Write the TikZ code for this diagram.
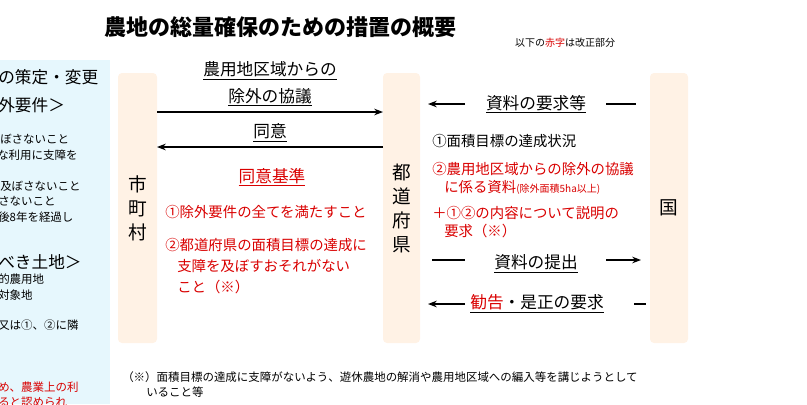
\documentclass[tikz,border=0pt]{standalone}
\usepackage{fontspec}
\setmainfont{Noto Sans CJK JP}
\usetikzlibrary{arrows.meta}
\begin{document}
\begin{tikzpicture}[x=0.75pt,y=-0.75pt,>=Stealth,
  % Styles
  party/.style={draw=none,fill=orange!10,rounded corners=3pt},
  txt/.style={anchor=west,inner sep=0pt,font=\fontsize{10.8}{13}\selectfont},
  small/.style={anchor=west,inner sep=0pt,font=\fontsize{8.6}{10}\selectfont},
  head/.style={inner sep=0pt,font=\fontsize{12.5}{15}\selectfont},
  flow/.style={->,thick}]
  \colorlet{revcolor}{red!85!black}
  \useasboundingbox (0,0) rectangle (807,404);

  % Left panel (cut off)
  \begin{scope}
    \clip (0,60) rectangle (110,404);
    \fill[cyan!10] (0,60) rectangle (110,404);
    \node[txt,font=\fontsize{12.5}{15}\selectfont] at (-2,77) {の策定・変更};
    \node[txt,font=\fontsize{12.5}{15}\selectfont] at (-2,105) {外要件＞};
    \node[small] at (0,139) {ぼさないこと};
    \node[small] at (-3,155) {な利用に支障を};
    \node[small] at (0,186) {及ぼさないこと};
    \node[small] at (-2,201) {さないこと};
    \node[small] at (-2,217) {後8年を経過し};
    \node[txt,font=\fontsize{12.5}{15}\selectfont] at (-2,262) {べき土地＞};
    \node[small] at (-2,279) {的農用地};
    \node[small] at (-2,295) {対象地};
    \node[small] at (-2,325) {又は①、②に隣};
    \node[small,text=revcolor] at (-2,387) {め、農業上の利};
    \node[small,text=revcolor] at (-2,402) {ると認められ};
  \end{scope}

  % Title
  \node[inner sep=0pt,font=\fontsize{16.5}{19}\bfseries\selectfont] (title) at (280,27) {農地の総量確保のための措置の概要};
  \node[inner sep=0pt,font=\fontsize{7.5}{9}\selectfont] (note) at (565,43) {以下の{\color{revcolor}赤字}は改正部分};

  % Parties
  \fill[party] (118,73) rectangle (157,343);
  \fill[party] (383,73) rectangle (420,343);
  \fill[party] (650,73) rectangle (688,343);
  \node[head,align=center,font=\fontsize{14}{18}\selectfont] (city) at (137.5,208) {市\\町\\村};
  \node[head,align=center,font=\fontsize{14}{18}\selectfont] (pref) at (401.5,208) {都\\道\\府\\県};
  \node[head,font=\fontsize{14}{18}\selectfont] (nat) at (669,208) {国};

  % City <-> prefecture
  \node[head,align=center,font=\fontsize{12.5}{20}\selectfont] (consult) at (270,84) {\underline{農用地区域からの}\\\underline{除外の協議}};
  \draw[flow] (157,112) -- (383,112);
  \node[head] (agree) at (270,133) {\underline{同意}};
  \draw[flow] (383,147) -- (157,147);
  \node[head,text=revcolor] (crit) at (272,177) {\underline{同意基準}};
  \node[txt,text=revcolor] (c1) at (165,212) {①除外要件の全てを満たすこと};
  \node[txt,text=revcolor] (c2) at (165,245) {②都道府県の面積目標の達成に};
  \node[txt,text=revcolor] (c2b) at (177,266) {支障を及ぼすおそれがない};
  \node[txt,text=revcolor] (c2c) at (177,287) {こと（※）};

  % Prefecture <-> nation
  \node[head] (req) at (536,104) {\underline{資料の要求等}};
  \draw[flow] (465,104) -- (428,104);
  \draw[thick] (606,104) -- (636,104);
  \node[txt] (r1) at (432,141) {①面積目標の達成状況};
  \node[txt,text=revcolor] (r2) at (432,169) {②農用地区域からの除外の協議};
  \node[txt,text=revcolor] (r2b) at (444,187) {に係る資料\fontsize{7.5}{8}\selectfont(除外面積5ha以上)};
  \node[txt,text=revcolor] (r3) at (432,213) {＋①②の内容について説明の};
  \node[txt,text=revcolor] (r3b) at (444,231) {要求（※）};
  \node[head] (sub) at (536,264) {\underline{資料の提出}};
  \draw[thick] (432,260) -- (465,260);
  \draw[flow] (606,260) -- (641,260);
  \node[head] (adv) at (537,304) {\underline{{\color{revcolor}勧告}・是正の要求}};
  \draw[flow] (465,304) -- (428,304);
  \draw[thick] (634,304) -- (646,304);

  % Footnote
  \node[small] (fn) at (122,377) {（※）面積目標の達成に支障がないよう、遊休農地の解消や農用地区域への編入等を講じようとして};
  \node[small] (fnb) at (146,392) {いること等};
\end{tikzpicture}
\end{document}
